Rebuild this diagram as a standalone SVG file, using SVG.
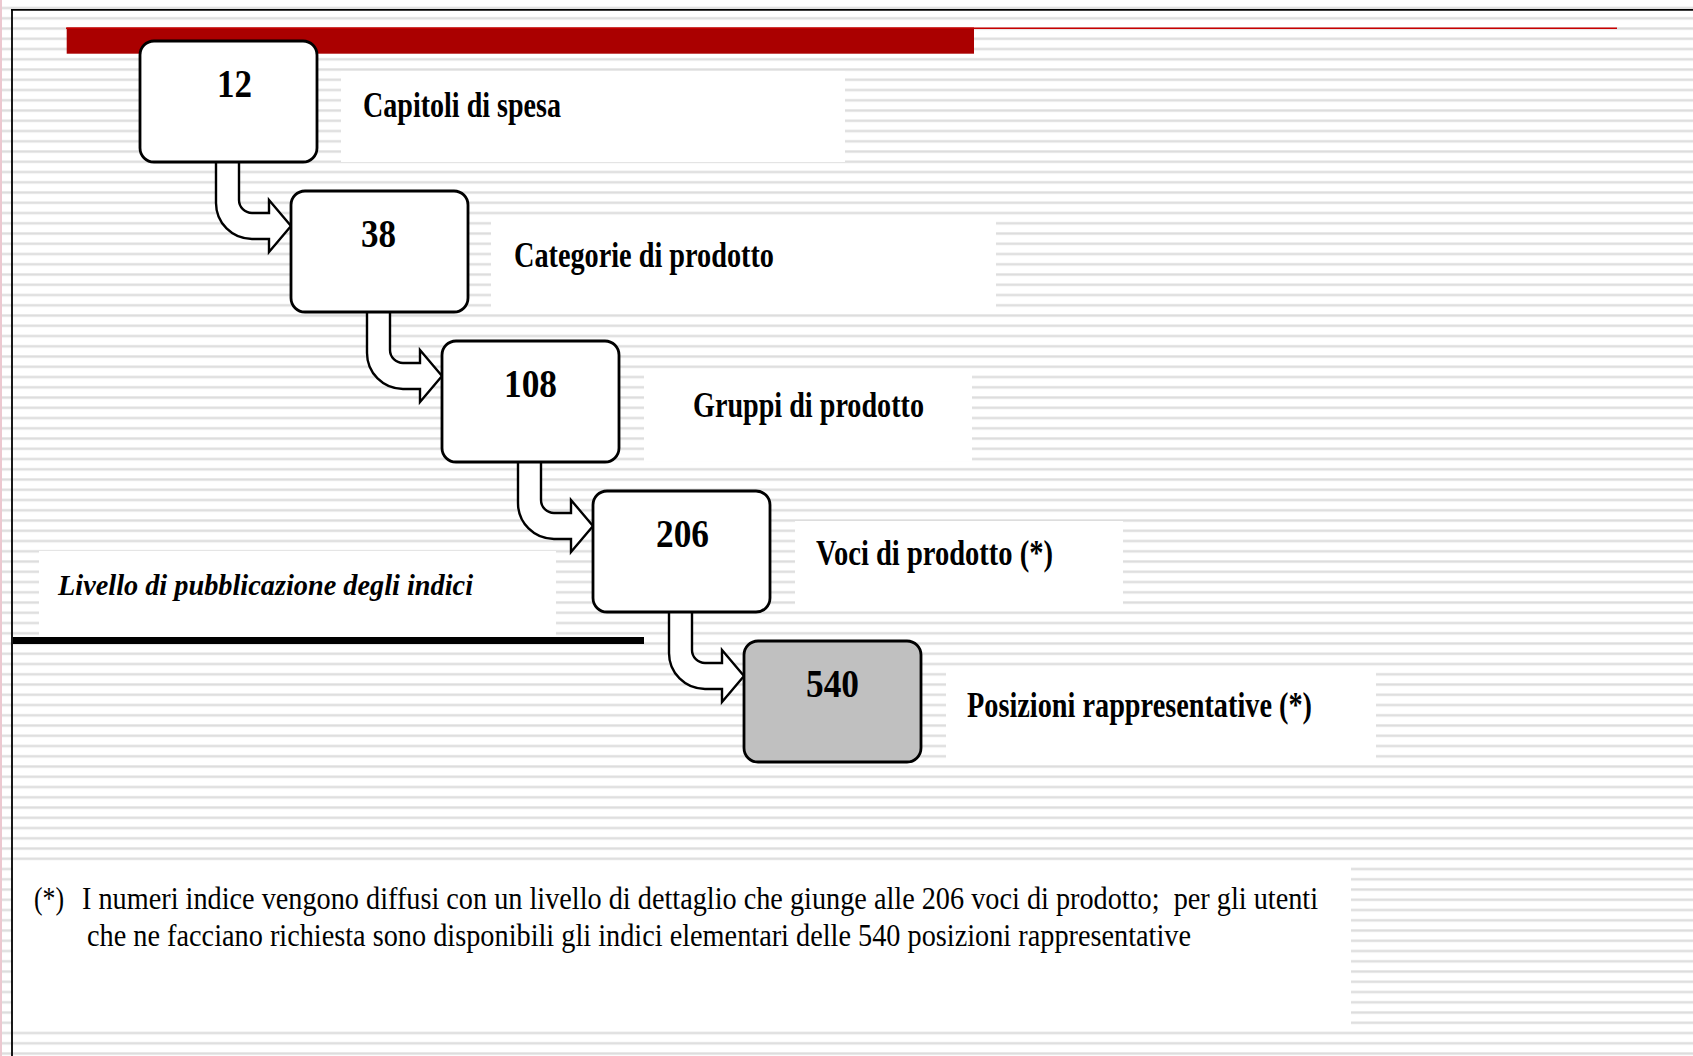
<svg xmlns="http://www.w3.org/2000/svg" width="1693" height="1056" viewBox="0 0 1693 1056">
<style>
.box{fill:#ffffff;stroke:#000;stroke-width:2.8}
.box.grey{fill:#c0c0c0}
.arr{fill:#ffffff;stroke:#000;stroke-width:2.4;stroke-linejoin:miter}
.wb{fill:#ffffff}
.num{font-family:"Liberation Serif",serif;font-weight:bold;font-size:40px;fill:#000}
.lbl{font-family:"Liberation Serif",serif;font-weight:bold;font-size:36px;fill:#000}
.liv{font-family:"Liberation Serif",serif;font-weight:bold;font-style:italic;font-size:30px;fill:#000}
.foot{font-family:"Liberation Serif",serif;font-size:31px;fill:#000;white-space:pre}
</style>
<defs>
<pattern id="stripes" patternUnits="userSpaceOnUse" x="0" y="16.8" width="20" height="10.25">
<rect x="0" y="0" width="20" height="3" fill="#ebebeb"/>
<rect x="0" y="0.8" width="20" height="1.4" fill="#dcdcdc"/>
</pattern>
</defs>
<rect x="0" y="0" width="1693" height="1056" fill="#ffffff"/>
<rect x="0" y="0" width="1693" height="1056" fill="url(#stripes)"/>
<rect x="0" y="0" width="2" height="1056" fill="#ecc8d0"/>
<g id="frame">
<line x1="11" y1="9.8" x2="1693" y2="9.8" stroke="#000" stroke-width="1.8"/>
<line x1="12" y1="9" x2="12" y2="1056" stroke="#000" stroke-width="1.8"/>
</g>
<g id="title-bar">
<rect x="66.7" y="27.5" width="907.3" height="26.2" fill="#aa0000"/>
<line x1="66" y1="28.2" x2="1617" y2="28.2" stroke="#c80000" stroke-width="1.4"/>
</g>
<g id="backgrounds">
<rect class="wb" x="341" y="71" width="504" height="91"/>
<rect class="wb" x="491" y="221" width="505" height="91"/>
<rect class="wb" x="644" y="375" width="328" height="86"/>
<rect class="wb" x="795" y="521" width="328" height="90"/>
<rect class="wb" x="946" y="669" width="430" height="91"/>
<rect class="wb" x="39" y="551" width="517" height="85"/>
<rect class="wb" x="13" y="866" width="1338" height="162"/>
</g>
<g id="connectors">
<path class="arr" transform="translate(140,41)" d="M76,119 L76,162 A36,36 0 0 0 112,198 L129,198 L129,211 L151,185 L129,159 L129,172 L112,172 A13,13 0 0 1 99,159 L99,119 Z"/>
<path class="arr" transform="translate(291,191)" d="M76,119 L76,162 A36,36 0 0 0 112,198 L129,198 L129,211 L151,185 L129,159 L129,172 L112,172 A13,13 0 0 1 99,159 L99,119 Z"/>
<path class="arr" transform="translate(442,341)" d="M76,119 L76,162 A36,36 0 0 0 112,198 L129,198 L129,211 L151,185 L129,159 L129,172 L112,172 A13,13 0 0 1 99,159 L99,119 Z"/>
<path class="arr" transform="translate(593,491)" d="M76,119 L76,162 A36,36 0 0 0 112,198 L129,198 L129,211 L151,185 L129,159 L129,172 L112,172 A13,13 0 0 1 99,159 L99,119 Z"/>
</g>
<g id="node-12">
<rect class="box" x="140" y="41" width="177" height="121" rx="14"/>
<text class="num" x="217" y="97" textLength="35" lengthAdjust="spacingAndGlyphs">12</text>
<text class="lbl" x="363" y="116.5" textLength="198" lengthAdjust="spacingAndGlyphs">Capitoli di spesa</text>
</g>
<g id="node-38">
<rect class="box" x="291" y="191" width="177" height="121" rx="14"/>
<text class="num" x="361" y="247" textLength="35" lengthAdjust="spacingAndGlyphs">38</text>
<text class="lbl" x="514" y="266.5" textLength="260" lengthAdjust="spacingAndGlyphs">Categorie di prodotto</text>
</g>
<g id="node-108">
<rect class="box" x="442" y="341" width="177" height="121" rx="14"/>
<text class="num" x="504" y="397" textLength="53" lengthAdjust="spacingAndGlyphs">108</text>
<text class="lbl" x="693" y="416.5" textLength="231" lengthAdjust="spacingAndGlyphs">Gruppi di prodotto</text>
</g>
<g id="node-206">
<rect class="box" x="593" y="491" width="177" height="121" rx="14"/>
<text class="num" x="656" y="547" textLength="53" lengthAdjust="spacingAndGlyphs">206</text>
<text class="lbl" x="816" y="565" textLength="237" lengthAdjust="spacingAndGlyphs">Voci di prodotto (*)</text>
</g>
<g id="node-540">
<rect class="box grey" x="744" y="641" width="177" height="121" rx="14"/>
<text class="num" x="806" y="697" textLength="53" lengthAdjust="spacingAndGlyphs">540</text>
<text class="lbl" x="967" y="716.5" textLength="345" lengthAdjust="spacingAndGlyphs">Posizioni rappresentative (*)</text>
</g>
<g id="publication-level">
<text class="liv" x="58" y="595" textLength="415" lengthAdjust="spacingAndGlyphs">Livello di pubblicazione degli indici</text>
<rect x="13" y="637" width="631" height="7" fill="#000"/>
</g>
<g id="footnote">
<text class="foot" x="34" y="909" textLength="30" lengthAdjust="spacingAndGlyphs">(*)</text>
<text class="foot" x="82" y="909" textLength="1236" lengthAdjust="spacingAndGlyphs">I numeri indice vengono diffusi con un livello di dettaglio che giunge alle 206 voci di prodotto;  per gli utenti</text>
<text class="foot" x="87" y="946" textLength="1104" lengthAdjust="spacingAndGlyphs">che ne facciano richiesta sono disponibili gli indici elementari delle 540 posizioni rappresentative</text>
</g>
</svg>
